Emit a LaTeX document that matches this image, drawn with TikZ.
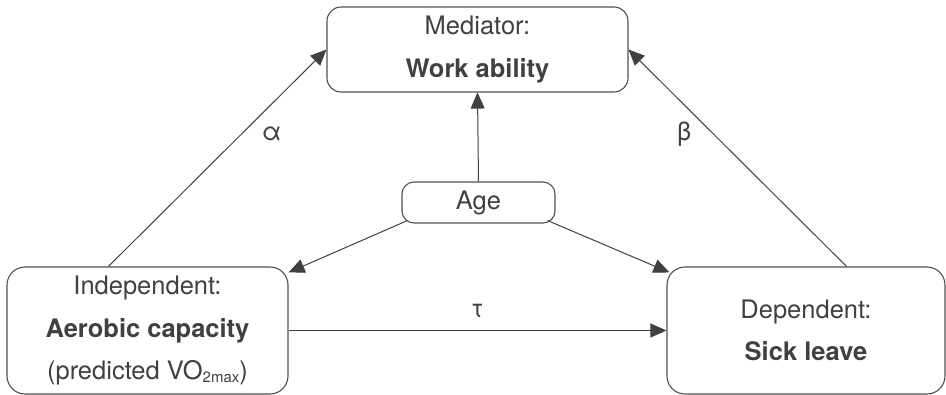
\documentclass[tikz,border=0pt]{standalone}
\usepackage{fontspec}
\setmainfont{TeX Gyre Heros}
\usetikzlibrary{arrows.meta}

\definecolor{ink}{RGB}{64,64,64}
\definecolor{boxline}{RGB}{80,80,80}

\tikzset{
  varbox/.style={draw=boxline, line width=1.1pt, align=center, text=ink,
    inner sep=0pt, font={\fontsize{25.5}{42.5}\selectfont}},
  link/.style={draw=ink, line width=1pt, -{Triangle[length=16pt,width=14pt]}},
  coef/.style={text=ink, inner sep=0pt, font={\fontsize{25.5}{30}\selectfont}}
}

\begin{document}
\begin{tikzpicture}[x=1pt, y=-1pt]
	\useasboundingbox (0,0) rectangle (946,395);

	% variables
	\node[varbox, rounded corners=14pt, minimum width=301pt, minimum height=85pt]
		(med) at (477.5,49.5) {Mediator:\\\textbf{Work ability}};
	\node[varbox, rounded corners=12pt, minimum width=153pt, minimum height=41pt]
		(age) at (478.5,202.5) {Age};
	\node[varbox, rounded corners=18pt, minimum width=281pt, minimum height=127pt]
		(ind) at (147.5,330.5) {Independent:\\\textbf{Aerobic capacity}\\(predicted VO{\fontsize{15}{15}\selectfont\raisebox{-3pt}{2max}})};
	\node[varbox, rounded corners=18pt, minimum width=278pt, minimum height=127pt]
		(dep) at (806,330.5) {Dependent:\\\textbf{Sick leave}};

	% paths
	\draw[link] ([xshift=102pt]ind.north west) -- node[pos=0.61, right=20pt, coef] {α} (med.west);
	\draw[link] ([xshift=-99pt]dep.north east) -- node[pos=0.61, left=22pt, coef] {β} (med.east);
	\draw[link] (age.north) -- (med.south);
	\draw[link] ([xshift=6pt,yshift=3pt]age.south west) -- ([yshift=-6pt]ind.north east);
	\draw[link] ([xshift=-8pt,yshift=3pt]age.south east) -- ([xshift=3pt,yshift=-6pt]dep.north west);
	\draw[link] (ind.east) -- node[above=12pt, coef] {τ} (dep.west);
\end{tikzpicture}
\end{document}
